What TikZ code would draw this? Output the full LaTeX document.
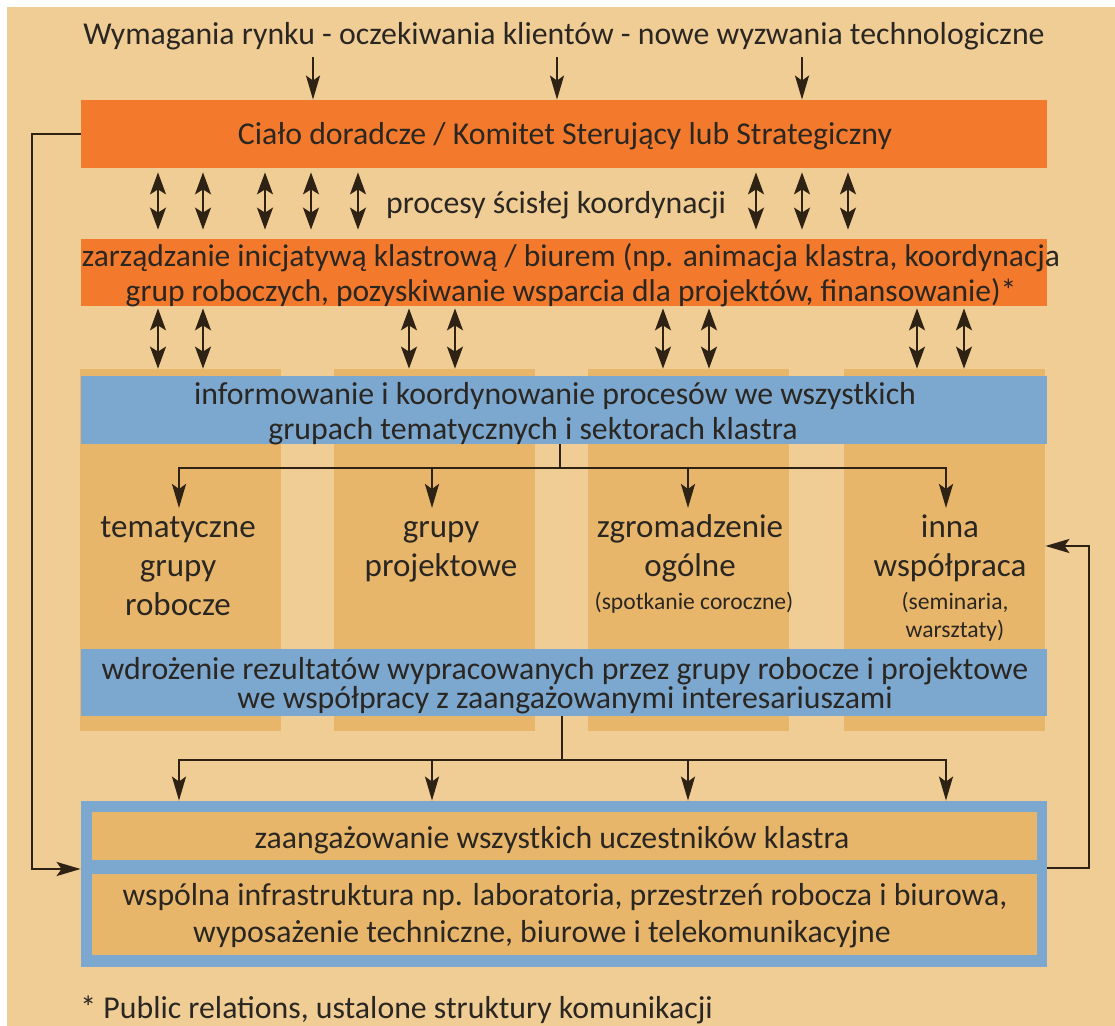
\documentclass[tikz,border=0pt]{standalone}
\usepackage{fontspec}
\setmainfont{Carlito}
\usetikzlibrary{arrows.meta}
\definecolor{paper}{HTML}{F1CD96}
\definecolor{colfill}{HTML}{E8B66B}
\definecolor{orng}{HTML}{F37A2C}
\definecolor{blu}{HTML}{7CA7CF}
\definecolor{ink}{HTML}{2A2622}
\definecolor{wire}{HTML}{2E2214}
\begin{document}
\begin{tikzpicture}[x=0.5pt,y=-0.5pt,
  panel/.style={draw=none,inner sep=0pt,minimum width=483pt},
  obox/.style={panel,fill=orng},
  bbox/.style={panel,fill=blu},
  ibox/.style={draw=none,inner sep=0pt,fill=colfill,minimum width=472.5pt},
  colbox/.style={draw=none,inner sep=0pt,fill=colfill,minimum width=100.5pt,minimum height=181pt},
  txt/.style={inner sep=0pt,text=ink,align=center,font=\fontsize{15.9}{17.5}\selectfont},
  one/.style={txt,text height=0.9em,text depth=0.04em},
  coltxt/.style={inner sep=0pt,text=ink,align=center,anchor=north,font=\fontsize{16.5}{19.5}\selectfont},
  subtxt/.style={inner sep=0pt,text=ink,align=center,font=\fontsize{11.8}{14}\selectfont},
  line/.style={draw=wire,line width=1.25pt},
  arr/.style={line,-{Stealth[length=12pt,width=7pt,inset=2.5pt]}},
  darr/.style={draw=wire,line width=0.9pt,{Stealth[length=11pt,width=8pt,inset=2.5pt]}-{Stealth[length=11pt,width=8pt,inset=2.5pt]}}
]
% page and background
\fill[white] (0,0) rectangle (1115,1026);
\fill[paper] (7,7) rectangle (1115,1026);
\useasboundingbox (0,0) rectangle (1115,1026);

% four column strips
\node[colbox] (col1) at (180,550) {};
\node[colbox] (col2) at (434,550) {};
\node[colbox] (col3) at (688.5,550) {};
\node[colbox] (col4) at (944.5,550) {};

% horizontal bands
\node[obox,minimum height=34pt] (boxA) at (564,134) {};
\node[obox,minimum height=33.5pt] (boxB) at (564,272.5) {};
\node[bbox,minimum height=34pt] (blue1) at (564,410) {};
\node[bbox,minimum height=33.5pt] (blue2) at (564,682.5) {};

% bottom frame with two inner boxes
\node[bbox,minimum height=83pt] (frame) at (564,884) {};
\node[ibox,minimum height=24pt] (in1) at (564.5,836) {};
\node[ibox,minimum height=40.5pt] (in2) at (564.5,914.5) {};

% texts
\node[one] (title) at (564,36) {Wymagania rynku - oczekiwania klientów - nowe wyzwania technologiczne};
\node[one] (tA) at (565,136) {Ciało doradcze / Komitet Sterujący lub Strategiczny};
\node[one] (proc) at (556,205) {procesy ścisłej koordynacji};
\node[txt,font=\fontsize{15.75}{17.5}\selectfont] (tB) at (571,275) {zarządzanie inicjatywą klastrową / biurem (np. animacja klastra, koordynacja\\grup roboczych, pozyskiwanie wsparcia dla projektów, finansowanie)*};
\node[txt] (tBlue1) at (555,414) {informowanie i koordynowanie procesów we wszystkich\\grupach tematycznych i sektorach klastra\hspace*{22pt}};
\node[txt,font=\fontsize{15.9}{14.5}\selectfont] (tBlue2) at (565,685.5) {wdrożenie rezultatów wypracowanych przez grupy robocze i projektowe\\we współpracy z zaangażowanymi interesariuszami};
\node[one] (tIn1) at (552,840) {zaangażowanie wszystkich uczestników klastra};
\node[txt,font=\fontsize{15.9}{18.5}\selectfont] (tIn2) at (565,916) {wspólna infrastruktura np. laboratoria, przestrzeń robocza i biurowa,\\wyposażenie techniczne, biurowe i telekomunikacyjne\hspace*{23pt}};
\node[one,anchor=west] (foot) at (80,1010) {* Public relations, ustalone struktury komunikacji};

% column texts
\node[coltxt] (c1) at (178,510) {\strut tematyczne\\grupy\\robocze};
\node[coltxt] (c2) at (441,510) {\strut grupy\\projektowe};
\node[coltxt] (c3) at (690,510) {\strut zgromadzenie\\ogólne};
\node[coltxt] (c4) at (950,510) {\strut inna\\współpraca};
\node[subtxt] (c3s) at (694,603) {(spotkanie coroczne)};
\node[subtxt] (c4s) at (955,617) {(seminaria,\\warsztaty)};

% market inputs into the steering body
\foreach \x [count=\i] in {313,557,802} {
  \coordinate (in\i) at (\x,57);
  \draw[arr] (in\i) -- (in\i |- boxA.north);
}

% coordination between steering body and cluster management
\foreach \x [count=\i] in {158,203,265,311,358,756,802,848} {
  \coordinate (u\i) at (\x,0);
  \draw[darr,shorten <=2pt,shorten >=4.5pt] (boxA.south -| u\i) -- (boxB.north -| u\i);
}

% cluster management to the column strips
\foreach \x [count=\i] in {158,203,409,455,663,709,917,964} {
  \coordinate (v\i) at (\x,0);
  \draw[darr,shorten <=1pt,shorten >=0pt] (boxB.south -| v\i) -- (col1.north -| v\i);
}

% distribution to the four groups
\coordinate (b1) at (560,468);
\draw[line] (blue1.south -| b1) -- (b1);
\foreach \x [count=\i] in {179,432,688,946} {
  \coordinate (a\i) at (\x,508);
  \draw[arr] (b1) -| (a\i);
}

% results into the joint infrastructure
\coordinate (b2) at (562,760);
\draw[line] (blue2.south -| b2) -- (b2);
\foreach \i in {1,...,4} {
  \draw[arr] (b2) -| (frame.north -| a\i);
}

% feedback loops
\coordinate (fbL) at (32,869);
\draw[arr] (boxA.west) -| (fbL) -- (frame.west |- fbL);
\coordinate (fbRlow) at (1089,868);
\coordinate (fbRtop) at (1089,546);
\draw[arr] (frame.east |- fbRlow) -- (fbRlow) -- (fbRtop) -- (col4.east |- fbRtop);
\end{tikzpicture}
\end{document}
